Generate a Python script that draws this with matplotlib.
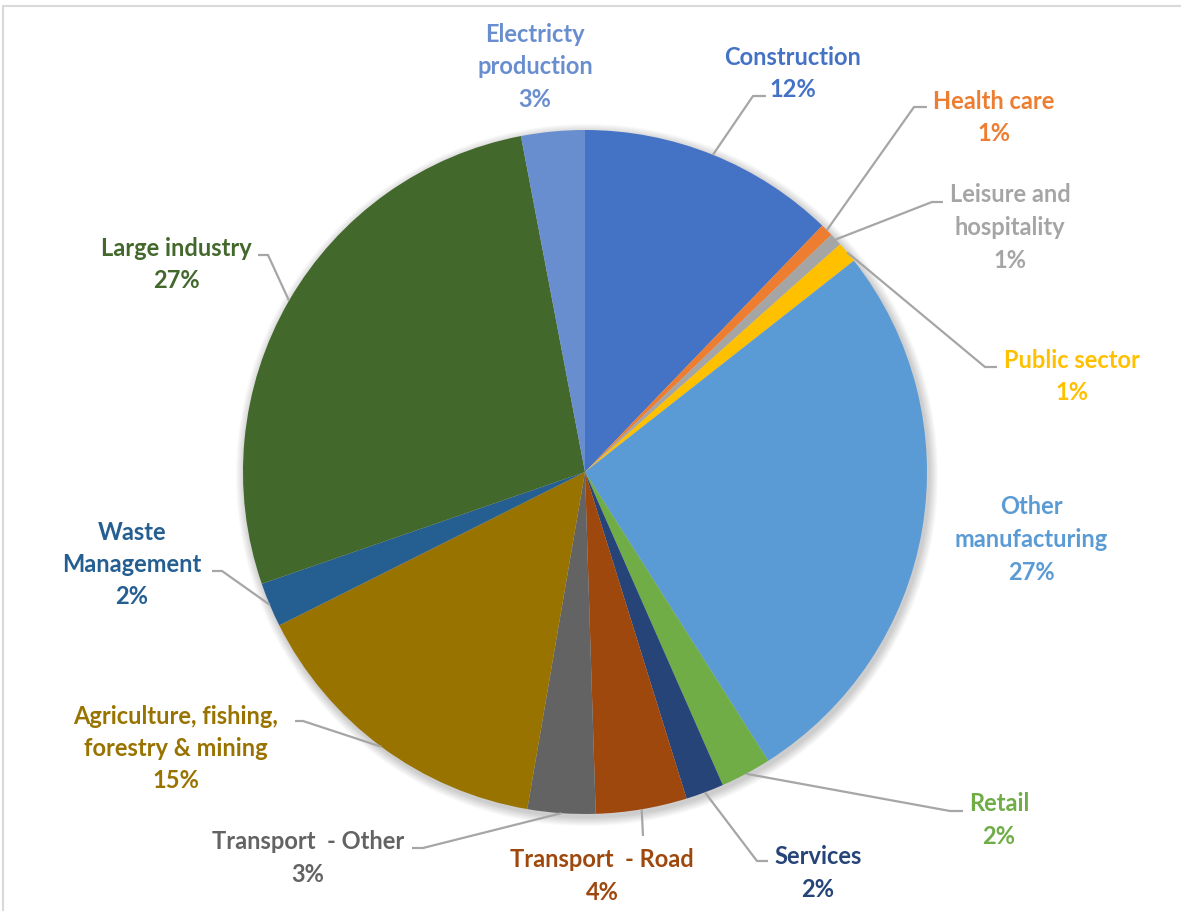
import numpy as np
import matplotlib
matplotlib.use("Agg")
import matplotlib.pyplot as plt
from matplotlib.patches import Circle

# Share of emissions by sector (percent), clockwise from 12 o'clock
sectors = [
    "Construction", "Health care", "Leisure and hospitality", "Public sector",
    "Other manufacturing", "Retail", "Services", "Transport - Road",
    "Transport - Other", "Agriculture, fishing, forestry & mining",
    "Waste Management", "Large industry", "Electricty production",
]
shares = [12.2, 0.6, 0.6, 1.0, 26.6, 2.4, 1.8, 4.3, 3.2, 14.9, 2.1, 27.3, 3.0]

# Label text split into lines as shown on the chart
label_lines = [
    ["Construction"], ["Health care"], ["Leisure and", "hospitality"], ["Public sector"],
    ["Other", "manufacturing"], ["Retail"], ["Services"], ["Transport  - Road"],
    ["Transport  - Other"], ["Agriculture, fishing,", "forestry & mining"],
    ["Waste", "Management"], ["Large industry"], ["Electricty", "production"],
]

colors = ["#4472C4", "#ED7D31", "#A5A5A5", "#FFC000", "#5B9BD5", "#70AD47",
          "#264478", "#9E480E", "#636363", "#997300", "#255E91", "#43682B",
          "#698ED0"]

W, H = 1181, 912
CX, CY, R = 585, 473, 342

# label block anchor: (x centre, y of first line) in pixels from top-left
label_pos = [(793, 57), (994, 101), (1010, 195), (1072, 360), (1031, 507),
             (999, 804), (818, 857), (602, 860), (308, 842), (176, 716),
             (132, 532), (176, 248), (535, 34)]
# outer end of each leader line (the short horizontal stub), pixels
leader_stub = [
    [(766, 97), (753, 97)],
    [(927, 108), (914, 108)],
    [(943, 203), (932, 203)],
    [(997, 368), (985, 368)],
    None,
    [(963, 812), (950, 812)],
    [(768, 862), (757, 862)],
    [(643, 837)],
    [(412, 849), (423, 849)],
    [(295, 722), (303, 722)],
    [(212, 572), (222, 572)],
    [(258, 256), (268, 256)],
    None,
]

LINE_PITCH = 32.5
FONT = "Lato"


def px(x, y):
    return x, H - y


fig = plt.figure(figsize=(W / 100, H / 100), dpi=100)
ax = fig.add_axes([0, 0, 1, 1])

# soft shadow under the pie
for i in range(10):
    ax.add_patch(Circle((CX + 2, H - CY - 3), R + 1 + i * 0.9,
                        color="black", alpha=0.018, lw=0, zorder=1))

wedges, _ = ax.pie(shares, colors=colors, startangle=90, counterclock=False,
                   center=px(CX, CY), radius=R, frame=True,
                   wedgeprops=dict(linewidth=0))
for w in wedges:
    w.set_zorder(2)
ax.set_xlim(0, W)
ax.set_ylim(0, H)
ax.set_aspect("equal")
ax.axis("off")

# chart frame
ax.plot([3, 3, W + 5], [-5, H - 7, H - 7], color="#D9D9D9", lw=1.5,
        solid_joinstyle="miter")

total = sum(shares)
cum = 0.0
for i, v in enumerate(shares):
    frac = v / total
    mid = (cum + frac / 2) * 2 * np.pi
    cum += frac
    pct = int(frac * 100 + 0.5)
    lines = label_lines[i] + [f"{pct}%"]
    lx, ly = label_pos[i]
    for k, t in enumerate(lines):
        x, y = px(lx, ly + k * LINE_PITCH)
        ax.text(x, y, t, ha="center", va="center", fontsize=17,
                fontweight="bold", color=colors[i], family=FONT, zorder=5)
    stub = leader_stub[i]
    if stub is not None:
        rim = (CX + R * np.sin(mid), CY - R * np.cos(mid))
        pts = stub + [rim]
        xs = [p[0] for p in pts]
        ys = [H - p[1] for p in pts]
        ax.plot(xs, ys, color="#A6A6A6", lw=1.6, zorder=4,
                solid_capstyle="butt")

fig.savefig("out.png", dpi=100, facecolor="white")
